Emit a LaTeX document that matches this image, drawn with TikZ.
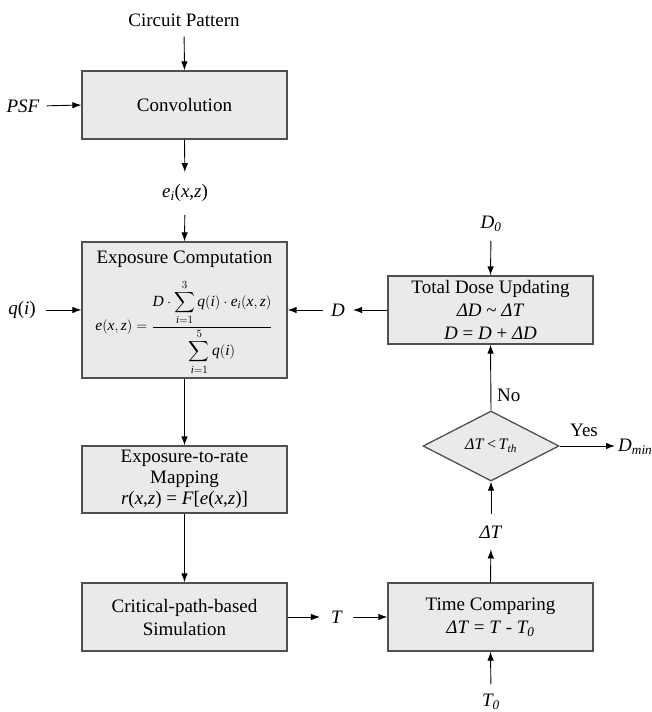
\documentclass[tikz,border=0pt]{standalone}
\usepackage{amsmath}
\usepackage{fontspec}
\setmainfont{Liberation Serif}
\usetikzlibrary{shapes.geometric,arrows.meta}
\definecolor{boxfill}{RGB}{234,234,236}
\definecolor{boxline}{RGB}{80,80,80}
\newcommand{\mi}[1]{\mathit{#1}}
\begin{document}
\begin{tikzpicture}[x=1pt,y=-1pt,
  every node/.style={font=\fontsize{19}{23}\selectfont},
  box/.style={draw=boxline, fill=boxfill, line width=1.3pt, minimum width=205pt,
              minimum height=68pt, inner sep=0pt, align=center},
  lab/.style={inner sep=0pt},
  arr/.style={-{Latex[length=9pt,width=6.5pt]}, line width=0.9pt}]
\useasboundingbox (0,0) rectangle (652,712);

% left column
\node[lab] (cp) at (184,20) {Circuit Pattern};
\node[box] (conv) at (184.5,105) {Convolution};
\node[lab] (psf) at (23,106) {\textit{PSF}};
\node[lab] (ei) at (185,193) {\textit{e\textsubscript{i}}(\textit{x},\textit{z})};
\node[box, minimum height=136pt] (exp) at (184.5,310) {};
\node[lab] (exptitle) at (184.5,259) {Exposure Computation};
\node[lab, font=\fontsize{15.5}{18}\selectfont] (formula) at (184,327)
  {$\mi{e}(\mi{x},\mi{z})=\dfrac{\mi{D}\cdot\displaystyle\sum_{\mi{i}=1}^{3}\mi{q}(\mi{i})\cdot \mi{e}_{\mi{i}}(\mi{x},\mi{z})}{\displaystyle\sum_{\mi{i}=1}^{5}\mi{q}(\mi{i})}$};
\node[lab] (qi) at (22,310) {\textit{q}(\textit{i})};
\node[box, minimum height=67pt, font=\fontsize{19}{21}\selectfont] (map) at (184.5,479.5)
  {Exposure-to-rate\\Mapping\\\textit{r}(\textit{x},\textit{z}) = \textit{F}[\textit{e}(\textit{x},\textit{z})]};
\node[box] (crit) at (184.5,617) {Critical-path-based\\Simulation};
\node[lab] (tlab) at (337,617) {\textit{T}};

% right column
\node[lab] (dlab) at (338,310) {\textit{D}};
\node[box] (total) at (490.5,310)
  {Total Dose Updating\\\textit{ΔD} \textasciitilde{} \textit{ΔT}\\\textit{D} = \textit{D} + \textit{ΔD}};
\node[lab] (d0) at (491,224) {\textit{D\textsubscript{0}}};
\node[diamond, draw=boxline, fill=boxfill, line width=1.3pt, minimum width=136pt,
      minimum height=70pt, inner sep=0pt, aspect=1.94,
      font=\fontsize{16}{18}\selectfont] (dia) at (491,446)
  {\textit{ΔT}\,<\,\textit{T\textsubscript{th}}};
\node[lab, anchor=west] (no) at (497,395) {No};
\node[lab] (yes) at (584,430) {Yes};
\node[lab, anchor=west] (dmin) at (618,447) {\textit{D\textsubscript{min}}};
\node[lab] (dt) at (491,532) {\textit{ΔT}};
\node[box] (time) at (490.5,617) {Time Comparing\\\textit{ΔT} = \textit{T} - \textit{T\textsubscript{0}}};
\node[lab] (t0) at (491,702) {\textit{T\textsubscript{0}}};

% connectors
\draw[arr, shorten <=10pt] (cp.south) -- (conv.north);
\draw[arr, shorten <=7pt] (psf.east) -- (conv.west);
\draw[arr, shorten >=12pt] (conv.south) -- (ei.north);
\draw[arr, shorten <=13pt] (ei.south) -- (exp.north);
\draw[arr, shorten <=10pt] (qi.east) -- (exp.west);
\draw[arr, shorten >=8pt] (total.west) -- (dlab.east);
\draw[arr, shorten <=8pt] (dlab.west) -- (exp.east);
\draw[arr, shorten <=9pt] (d0.south) -- (total.north);
\draw[arr] (exp.south) -- (map.north);
\draw[arr] (map.south) -- (crit.north);
\draw[arr, shorten >=11pt] (crit.east) -- (tlab.west);
\draw[arr, shorten <=10pt] (tlab.east) -- (time.west);
\draw[arr, shorten >=11pt] (time.north) -- (dt.south);
\draw[arr, shorten <=12pt] (dt.north) -- (dia.south);
\draw[arr] (dia.north) -- (total.south);
\draw[arr, shorten >=3pt] (dia.east) -- (dmin.west |- dia.east);
\draw[arr, shorten <=10pt] (t0.north) -- (time.south);
\end{tikzpicture}
\end{document}
